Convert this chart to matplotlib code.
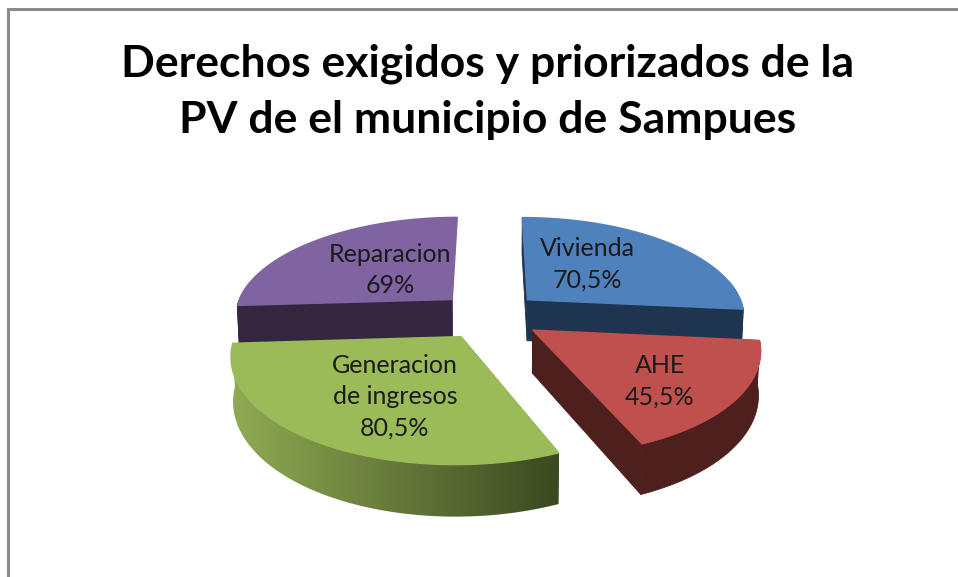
import numpy as np
import matplotlib
matplotlib.use("Agg")
import matplotlib.pyplot as plt
from matplotlib.patches import Polygon
from matplotlib.colors import to_rgb

title = "Derechos exigidos y priorizados de la\nPV de el municipio de Sampues"
categories = ["Vivienda", "AHE", "Generacion\nde ingresos", "Reparacion"]
values = [70.5, 45.5, 80.5, 69]
top_colors = ["#4F81BD", "#C0504D", "#9BBB59", "#8064A2"]
wall_colors = ["#1F344F", "#4D1F1D", "#3B4920", "#35263F"]
label_centres = [(587, 264), (660, 381), (395, 397), (390, 270)]

W, H = 958, 577
CX, CY, RX, RY = 489.5, 315.5, 218.5, 100
PERSP, EXPLODE, DEPTH = 0.16, 0.24, 42


def project(u, v, depth=0.0):
    s = 1 / (1 - PERSP * v)
    shrink = 1 - 0.008 * depth
    return CX + RX * u * s * shrink, CY + RY * v * s + DEPTH * s * depth


plt.rcParams["font.family"] = ["Lato", "DejaVu Sans"]
fig = plt.figure(figsize=(W / 100, H / 100), dpi=100)
ax = fig.add_axes([0, 0, 1, 1])
ax.axis("off")

ax.plot([8.5, 8.5, W], [H, 9, 9], color="#8A8A8A", lw=2.2, solid_joinstyle="miter")

edges = np.concatenate([[0], np.cumsum(values)]) / np.sum(values) * 2 * np.pi
draw_order = [3, 0, 1, 2]

for rank, i in enumerate(draw_order):
    a0, a1 = edges[i], edges[i + 1]
    mid = (a0 + a1) / 2
    ou, ov = EXPLODE * np.sin(mid), -EXPLODE * np.cos(mid)
    th = np.linspace(a0, a1, 200)
    u = ou + np.sin(th)
    v = ov - np.cos(th)
    tx, ty = project(u, v)
    bx, by = project(u, v, 1)
    px, py = project(ou, ov)
    qx, qy = project(ou, ov, 1)
    z = rank * 3 + 1
    wall = wall_colors[i]

    for e in (0, -1):
        if i in (2, 3) and e == -1:
            continue
        ax.fill([px, tx[e], bx[e], qx], [py, ty[e], by[e], qy], color=wall, lw=0.6, zorder=z)

    front = -np.cos(th) > -0.2
    outer = np.column_stack([np.r_[tx[front], bx[front][::-1]], np.r_[ty[front], by[front][::-1]]])
    if i == 2:
        ramp = np.linspace(0, 1, 256)[None, :, None]
        c_left, c_right = np.array(to_rgb("#90AB54")), np.array(to_rgb("#3B4920"))
        img = ax.imshow(c_left + (c_right - c_left) * ramp, aspect="auto", zorder=z + 1,
                        extent=[outer[:, 0].min(), outer[:, 0].max(), outer[:, 1].max(), outer[:, 1].min()],
                        interpolation="bilinear")
        img.set_clip_path(Polygon(outer, closed=True, transform=ax.transData))
    else:
        ax.fill(outer[:, 0], outer[:, 1], color=wall, lw=0.6, zorder=z + 1)

    ax.fill(np.r_[px, tx], np.r_[py, ty], color=top_colors[i], lw=1.0, zorder=z + 2)

for name, val, (lx, ly) in zip(categories, values, label_centres):
    txt = f"{val:g}".replace(".", ",") + "%"
    ax.text(lx, ly, f"{name}\n{txt}", ha="center", va="center", fontsize=18,
            color="#1A1A1A", linespacing=1.45, zorder=30)

ax.text(488, 92, title, ha="center", va="center", fontsize=32, fontweight="bold",
        color="black", linespacing=1.5, zorder=30)

ax.set_xlim(0, W)
ax.set_ylim(H, 0)
fig.savefig("out.png", dpi=100)
